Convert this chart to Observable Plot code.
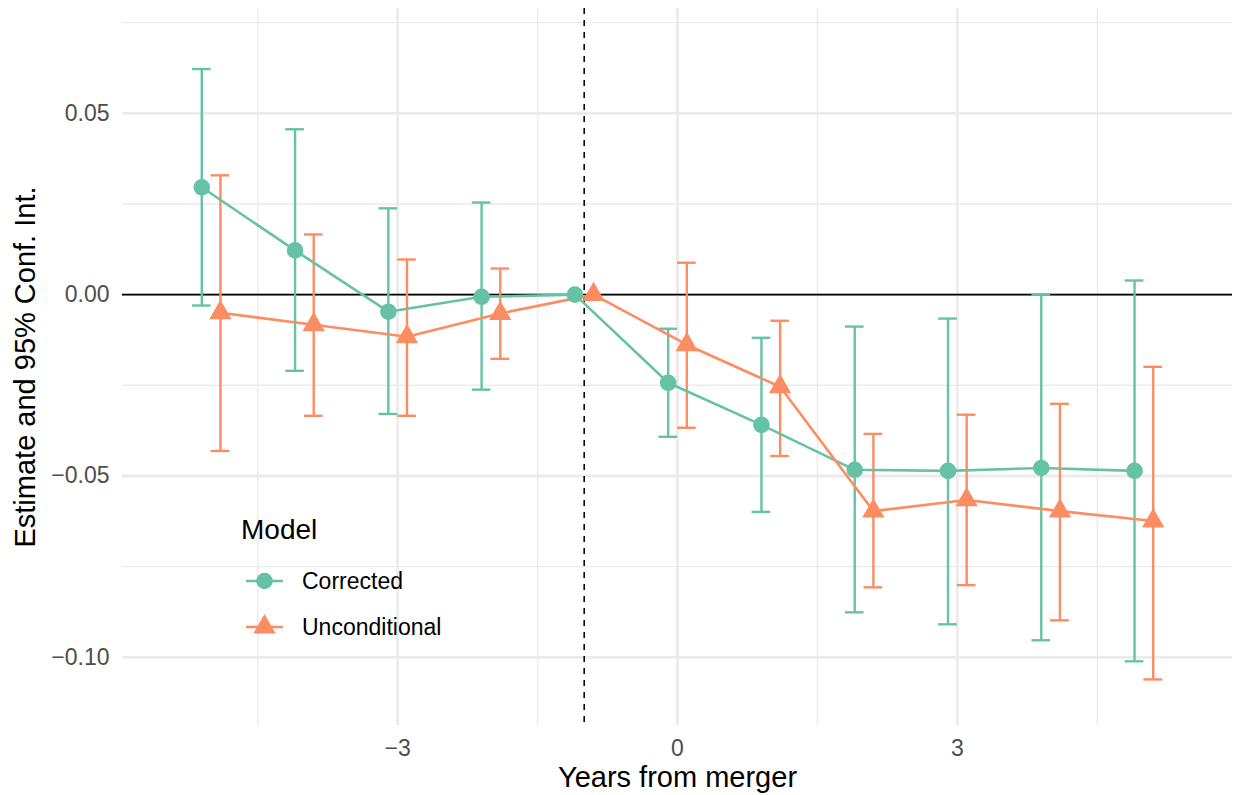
<!DOCTYPE html>
<html>
<head>
<meta charset="utf-8">
<script src="https://cdn.jsdelivr.net/npm/d3@7"></script>
<script src="https://cdn.jsdelivr.net/npm/@observablehq/plot@0.6"></script>
<style>
  html, body { margin: 0; padding: 0; background: white; }
  #chart { position: relative; width: 1236px; height: 795px; }
</style>
</head>
<body>
<div id="chart"></div>
<script>
const years = [-5, -4, -3, -2, -1, 0, 1, 2, 3, 4, 5];
const models = ["Corrected", "Unconditional"];
const modelColors = ["#66C2A5", "#FC8D62"];
const modelSymbols = ["circle", "triangle"];

const correctedEst = [0.0296, 0.0122, -0.0047, -0.0006, 0, -0.0243, -0.0359, -0.0483, -0.0486, -0.0478, -0.0486];
const correctedLo  = [-0.0030, -0.0210, -0.0329, -0.0262, null, -0.0392, -0.0599, -0.0876, -0.0909, -0.0953, -0.1011];
const correctedHi  = [0.0622, 0.0456, 0.0238, 0.0254, null, -0.0094, -0.0119, -0.0088, -0.0066, 0.0000, 0.0039];

const uncondEst = [-0.0050, -0.0083, -0.0116, -0.0052, 0, -0.0138, -0.0254, -0.0597, -0.0566, -0.0597, -0.0624];
const uncondLo  = [-0.0431, -0.0334, -0.0334, -0.0177, null, -0.0367, -0.0445, -0.0807, -0.0801, -0.0898, -0.1061];
const uncondHi  = [0.0329, 0.0166, 0.0097, 0.0072, null, 0.0088, -0.0072, -0.0384, -0.0331, -0.0301, -0.0199];

const xMajor = [-3, 0, 3];
const xMinor = [-4.5, -1.5, 1.5, 4.5];
const yMajor = [-0.10, -0.05, 0.00, 0.05];
const yMinor = [-0.075, -0.025, 0.025, 0.075];

const dodge = 0.1;
const capHalf = 0.1;

const rows = years.flatMap((yr, i) => [
  {model: "Corrected", year: yr, x: yr - dodge, est: correctedEst[i], lo: correctedLo[i], hi: correctedHi[i]},
  {model: "Unconditional", year: yr, x: yr + dodge, est: uncondEst[i], lo: uncondLo[i], hi: uncondHi[i]}
]);
const rowsCI = rows.filter(d => d.lo != null && d.hi != null);

const grid = "#EBEBEB";
const font = "'Liberation Sans', Arial, Helvetica, sans-serif";

const plot = Plot.plot({
  width: 1236,
  height: 795,
  marginLeft: 122,
  marginRight: 4,
  marginTop: 8,
  marginBottom: 70,
  x: {domain: [-5.95, 5.95]},
  y: {domain: [-0.1188, 0.0789]},
  color: {domain: models, range: modelColors},
  symbol: {domain: models, range: modelSymbols},
  style: {fontFamily: font, fontSize: "23px", color: "#4D4D4D", background: "white"},
  marks: [
    Plot.ruleX(xMinor, {stroke: grid, strokeWidth: 1.4}),
    Plot.ruleY(yMinor, {stroke: grid, strokeWidth: 1.4}),
    Plot.ruleX(xMajor, {stroke: grid, strokeWidth: 2.8}),
    Plot.ruleY(yMajor, {stroke: grid, strokeWidth: 2.8}),
    Plot.ruleY([0], {stroke: "black", strokeWidth: 1.6}),
    Plot.ruleX([-1], {stroke: "black", strokeWidth: 1.6, strokeDasharray: "6,6"}),
    Plot.ruleX(rowsCI, {x: "x", y1: "lo", y2: "hi", stroke: "model", strokeWidth: 2.4}),
    Plot.ruleY(rowsCI, {y: "lo", x1: d => d.x - capHalf, x2: d => d.x + capHalf, stroke: "model", strokeWidth: 2.4}),
    Plot.ruleY(rowsCI, {y: "hi", x1: d => d.x - capHalf, x2: d => d.x + capHalf, stroke: "model", strokeWidth: 2.4}),
    Plot.line(rows, {x: "x", y: "est", z: "model", stroke: "model", strokeWidth: 2.6}),
    Plot.dot(rows, {x: "x", y: "est", fill: "model", symbol: "model", r: 8.3, stroke: "none"}),
    Plot.axisX({ticks: xMajor, tickSize: 0, tickPadding: 14, tickFormat: d3.format("d"), label: null}),
    Plot.axisY({ticks: yMajor, tickSize: 0, tickPadding: 13, tickFormat: d3.format(".2f"), label: null}),
    Plot.text(["Years from merger"], {frameAnchor: "bottom", dy: 61, fontSize: 29, fill: "black", textAnchor: "middle"}),
    Plot.text(["Estimate and 95% Conf. Int."], {frameAnchor: "left", dx: -97, rotate: -90, fontSize: 29, fill: "black", textAnchor: "middle"})
  ]
});

document.getElementById("chart").appendChild(plot);

// Legend (inside the panel, as in the reference)
const svg = d3.select(plot);
const lg = svg.append("g").attr("font-family", font).attr("text-anchor", "start");
lg.append("text")
  .attr("x", 241).attr("y", 529).attr("dy", "0.35em")
  .attr("font-size", 28).attr("fill", "black")
  .text("Model");
models.forEach((m, i) => {
  const cy = 581 + i * 46;
  const g = lg.append("g");
  g.append("line")
    .attr("x1", 246).attr("x2", 283).attr("y1", cy).attr("y2", cy)
    .attr("stroke", modelColors[i]).attr("stroke-width", 2.6);
  const sym = i === 0 ? d3.symbolCircle : d3.symbolTriangle;
  g.append("path")
    .attr("transform", `translate(264.5,${cy})`)
    .attr("d", d3.symbol(sym, Math.PI * 8.3 * 8.3)())
    .attr("fill", modelColors[i]);
  g.append("text")
    .attr("x", 302).attr("y", cy).attr("dy", "0.35em")
    .attr("font-size", 23).attr("fill", "black")
    .text(m);
});
</script>
</body>
</html>
